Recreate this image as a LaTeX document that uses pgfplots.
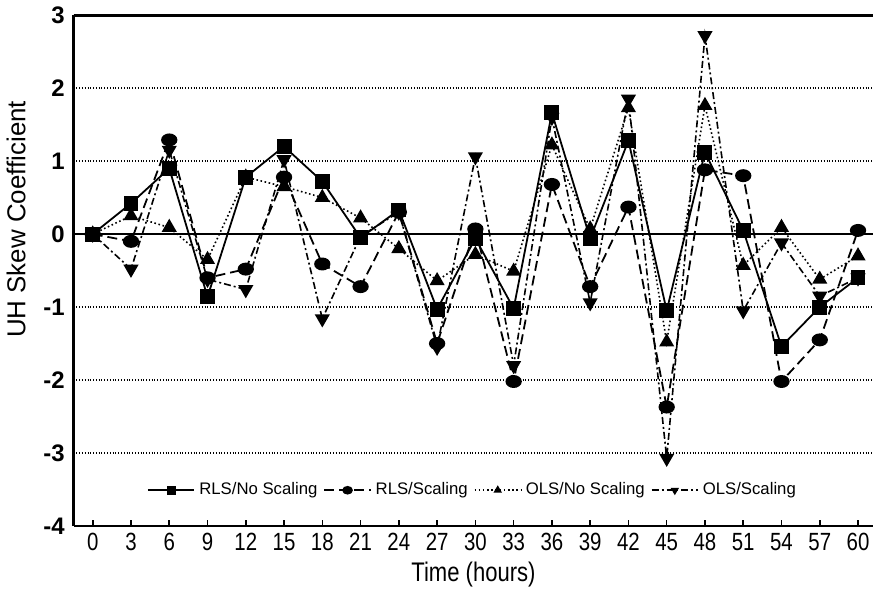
\documentclass[border=0pt]{standalone}
\usepackage{fontspec}
\setmainfont{Liberation Sans}
\newfontfamily\narrow[FakeStretch=0.82]{Liberation Sans}
\usepackage{pgfplots}
\pgfplotsset{compat=1.18}

\begin{document}
\begin{tikzpicture}
  \begin{axis}[
      width=401.5pt, height=256.5pt, scale only axis,
      xmin=-1.5, xmax=61.2, ymin=-4, ymax=3,
      separate axis lines,
      axis x line=box, axis y line=left,
      axis line style={-, line width=1.4pt},
      xtick={0,3,...,60}, xtick pos=bottom, tick align=inside,
      major tick length=3pt,
      x tick style={line width=0.8pt, black},
      ytick={-4,-3,-2,-1,0,1,2,3},
      yticklabels={-4,-3,-2,-1,0,1,2,3},
      y tick style={draw=none},
      ymajorgrids, grid style={densely dotted, line width=0.7pt, black},
      extra y ticks={0}, extra y tick labels={},
      extra y tick style={grid style={solid, line width=1.4pt, black}},
      x tick label style={font=\narrow\fontsize{12.5}{13}\selectfont},
      y tick label style={font=\fontsize{12}{13}\selectfont\bfseries, xshift=-1pt},
      /pgf/number format/assume math mode=true,
      xlabel={Time (hours)},
      xlabel style={font=\narrow\fontsize{13.5}{14}\selectfont, yshift=1pt},
      ylabel={UH Skew Coefficient},
      ylabel style={font=\fontsize{13}{14}\selectfont, at={(ticklabel cs:0.6)}, yshift=2pt},
      legend columns=4,
      legend style={draw=none, fill=none, at={(rel axis cs:0.5,0.07)}, anchor=center,
                    font=\fontsize{8.4}{9}\selectfont,
                    /tikz/every even column/.append style={column sep=1pt}},
      legend image code/.code={
        \draw[mark repeat=2, mark phase=2, #1, mark size=1.7pt]
          plot coordinates {(0cm,0cm) (0.41cm,0cm) (0.82cm,0cm)};},
    ]
    \addplot[black, line width=0.9pt, mark=square*, mark size=3.3pt,
             mark options={solid}]
      coordinates {(0,0) (3,0.42) (6,0.9) (9,-0.86) (12,0.78) (15,1.2) (18,0.72)
        (21,-0.05) (24,0.33) (27,-1.03) (30,-0.06) (33,-1.02) (36,1.66) (39,-0.06)
        (42,1.28) (45,-1.05) (48,1.12) (51,0.05) (54,-1.54) (57,-1.0) (60,-0.6)};
    \addlegendentry{RLS/No Scaling}
    \addplot[black, line width=0.9pt, dash pattern=on 5pt off 2.5pt,
             mark=*, mark size=2.8pt, mark options={solid, xscale=1.3}]
      coordinates {(0,0) (3,-0.1) (6,1.29) (9,-0.6) (12,-0.48) (15,0.78) (18,-0.41)
        (21,-0.72) (24,0.3) (27,-1.5) (30,0.07) (33,-2.02) (36,0.68) (39,-0.72)
        (42,0.37) (45,-2.37) (48,0.88) (51,0.8) (54,-2.02) (57,-1.45) (60,0.05)};
    \addlegendentry{RLS/Scaling\hspace{17pt}}
    \addplot[black, line width=0.8pt, dash pattern=on 0.8pt off 1.3pt,
             mark=triangle*, mark size=3.6pt, mark options={solid}]
      coordinates {(0,0) (3,0.25) (6,0.09) (9,-0.35) (12,0.78) (15,0.65) (18,0.5)
        (21,0.22) (24,-0.2) (27,-0.64) (30,-0.28) (33,-0.51) (36,1.22) (39,0.07)
        (42,1.73) (45,-1.48) (48,1.76) (51,-0.43) (54,0.09) (57,-0.62) (60,-0.3)};
    \addlegendentry{OLS/No Scaling}
    \addplot[black, line width=0.8pt, dash pattern=on 3.5pt off 1.5pt on 1pt off 1.5pt,
             mark=triangle*, mark size=3.6pt, mark options={solid, rotate=180}]
      coordinates {(0,0) (3,-0.48) (6,1.15) (9,-0.62) (12,-0.76) (15,1.02) (18,-1.16)
        (21,-0.03) (24,0.3) (27,-1.55) (30,1.06) (33,-1.8) (36,1.6) (39,-0.94)
        (42,1.85) (45,-3.07) (48,2.72) (51,-1.05) (54,-0.12) (57,-0.85) (60,-0.6)};
    \addlegendentry{OLS/Scaling}
  \end{axis}
\end{tikzpicture}
\end{document}
